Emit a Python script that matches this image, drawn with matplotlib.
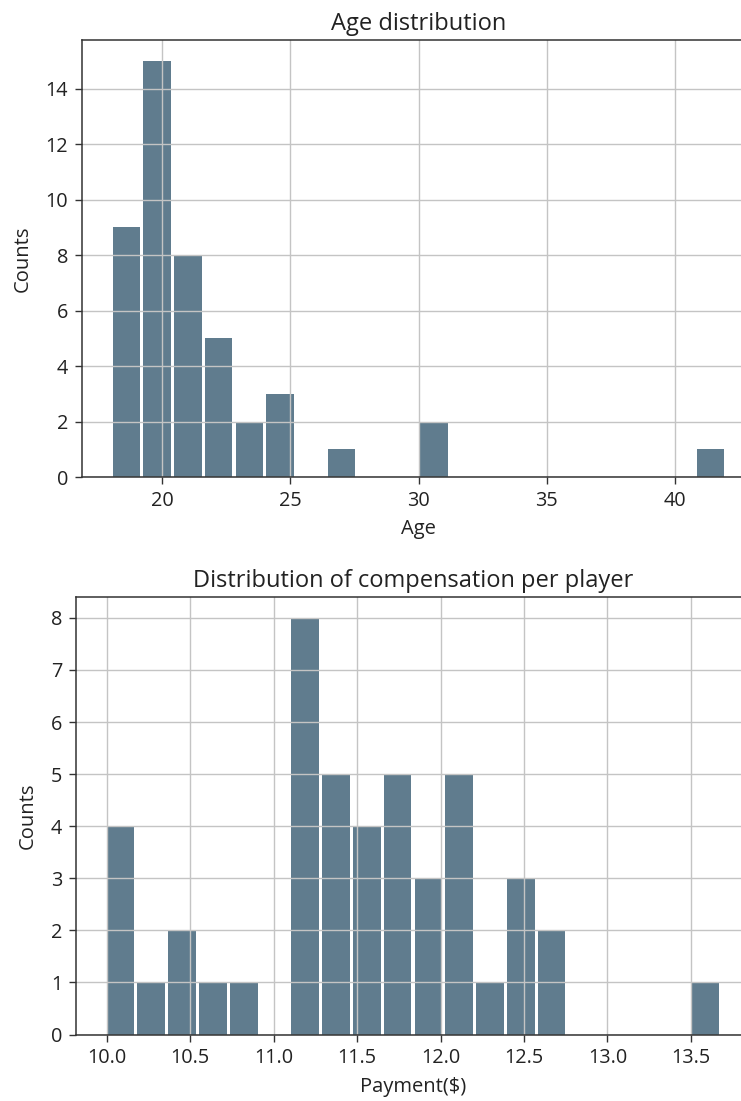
import numpy as np
import matplotlib
matplotlib.use("Agg")
import matplotlib.pyplot as plt

plt.rcParams['font.family'] = ['Open Sans', 'DejaVu Sans']

# Age histogram: 20 bins between min and max age
age_range = (18.0, 42.0)
age_counts = [9, 15, 8, 5, 2, 3, 0, 1, 0, 0, 2, 0, 0, 0, 0, 0, 0, 0, 0, 1]

# Payment histogram: 20 bins between min and max payment
pay_range = (9.99, 13.68)
pay_counts = [4, 1, 2, 1, 1, 0, 8, 5, 4, 5, 3, 5, 1, 3, 2, 0, 0, 0, 0, 1]

bar_color = '#607c8e'

W, H = 741, 1101
fig = plt.figure(figsize=(W / 100, H / 100), dpi=100)

def rect(left, top, right, bottom):
    return [left / W, 1 - bottom / H, (right - left) / W, (bottom - top) / H]

ax1 = fig.add_axes(rect(82, 40, 755, 477))
ax2 = fig.add_axes(rect(76, 597, 750, 1034.5))

def draw(ax, rng, counts, title, xlabel):
    edges = np.linspace(rng[0], rng[1], len(counts) + 1)
    centers = (edges[:-1] + edges[1:]) / 2
    ax.hist(centers, bins=edges, weights=counts, rwidth=0.9, color=bar_color)
    ax.grid(True, color='#c4c4c4', linewidth=1.0)
    ax.set_title(title, fontsize=17, color='#222222', pad=7)
    ax.set_xlabel(xlabel, fontsize=14.5, color='#222222', labelpad=6)
    ax.set_ylabel('Counts', fontsize=14.5, color='#222222', labelpad=9)
    ax.tick_params(labelsize=14.3, labelcolor='#222222', length=5, pad=5,
                   width=1.0, color='#333333')
    for s in ax.spines.values():
        s.set_color('#333333')
        s.set_linewidth(1.1)

draw(ax1, age_range, age_counts, 'Age distribution', 'Age')
draw(ax2, pay_range, pay_counts, 'Distribution of compensation per player', 'Payment($)')

fig.savefig('out.png', dpi=100)
